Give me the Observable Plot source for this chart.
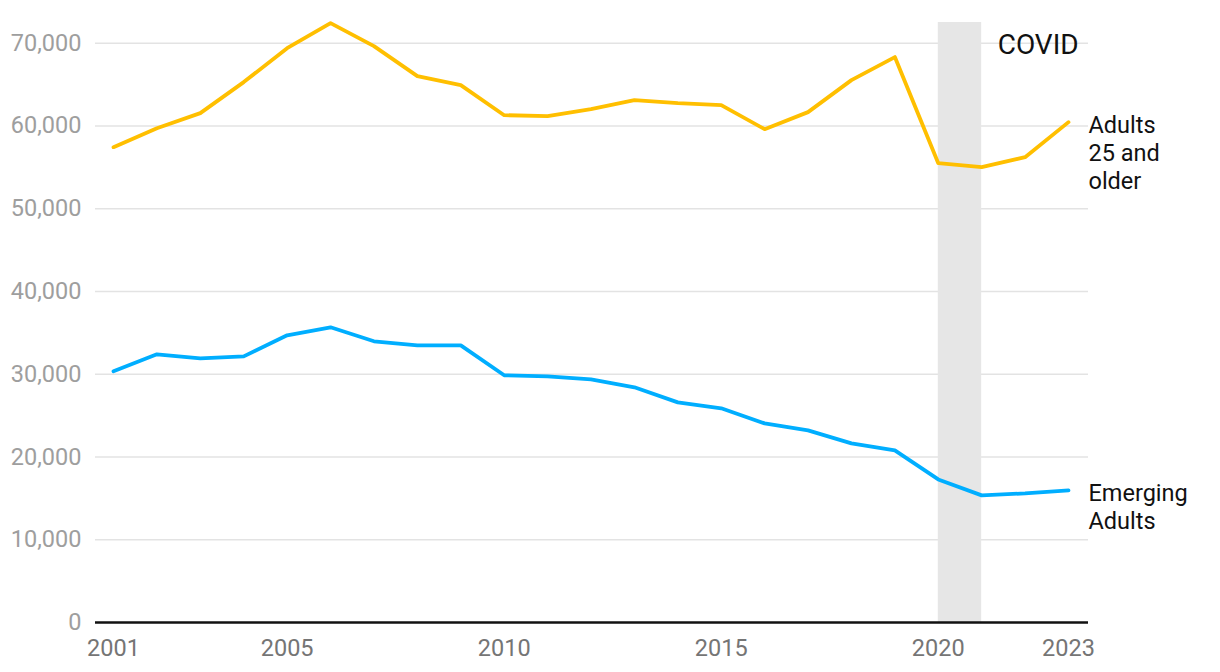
<!DOCTYPE html>
<html><head><meta charset="utf-8">
<script src="https://cdn.jsdelivr.net/npm/d3@7"></script>
<script src="https://cdn.jsdelivr.net/npm/@observablehq/plot@0.6"></script>
<style>
html,body{margin:0;padding:0;background:#fff;}
svg{display:block;}
</style>
</head><body>
<div id="chart"></div>
<script>
const years = [2001,2002,2003,2004,2005,2006,2007,2008,2009,2010,2011,2012,2013,2014,2015,2016,2017,2018,2019,2020,2021,2022,2023];
const adults25 = [57440,59730,61550,65300,69400,72430,69650,66020,64930,61300,61190,62030,63120,62760,62520,59610,61670,65540,68320,55500,55020,56230,60460];
const emerging = [30350,32410,31920,32160,34700,35670,33980,33490,33490,29870,29750,29380,28420,26600,25880,24060,23220,21640,20800,17290,15360,15600,15960];
const seriesNames = ["Adults\n25 and\nolder", "Emerging\nAdults"];
const seriesColors = ["#FFBF00", "#00AEFF"];
const xTicks = [2001,2005,2010,2015,2020,2023];
const yTicks = [0,10000,20000,30000,40000,50000,60000,70000];
const covid = [{start:2020, end:2021, label:"COVID"}];

const rows = [];
years.forEach((y,i)=>{
  rows.push({year:y, value:adults25[i], series:seriesNames[0]});
  rows.push({year:y, value:emerging[i], series:seriesNames[1]});
});
const last = [
  {year:years[years.length-1], value:adults25[adults25.length-1], series:seriesNames[0]},
  {year:years[years.length-1], value:emerging[emerging.length-1], series:seriesNames[1]}
];

const chart = Plot.plot({
  width:1220, height:672,
  marginLeft:95, marginRight:132, marginTop:22, marginBottom:50,
  style:{fontFamily:"Roboto, sans-serif", fontSize:"23.5px", background:"#fff"},
  x:{domain:[2001,2023], insetLeft:18, insetRight:20, label:null},
  y:{domain:[0,72500], label:null},
  color:{domain:seriesNames, range:seriesColors},
  marks:[
    Plot.ruleY(yTicks.filter(d=>d>0), {stroke:"#e3e3e3", strokeWidth:1.5}),
    Plot.rectX(covid, {x1:"start", x2:"end", y1:0, y2:72500, fill:"#e6e6e6"}),
    Plot.text(covid, {x:"end", y:72500, text:"label", textAnchor:"start", lineAnchor:"top", dx:16, dy:12, fontSize:28, fill:"#111"}),
    Plot.ruleY([0], {stroke:"#111", strokeWidth:2.5}),
    Plot.line(rows, {x:"year", y:"value", z:"series", stroke:"series", strokeWidth:3.8}),
    Plot.text(last, {x:"year", y:"value", text:"series", textAnchor:"start", lineAnchor:"top", dx:20, dy:-9, fill:"#111", fontSize:23.5, lineHeight:28/23.5}),
    Plot.axisX({ticks:xTicks, tickFormat:d=>String(d), tickSize:0, tickPadding:17, color:"#757575", fontSize:23.5, label:null}),
    Plot.axisY({ticks:yTicks, tickFormat:d3.format(","), tickSize:0, tickPadding:14, color:"#9e9e9e", fontSize:23.5, label:null})
  ]
});
document.getElementById("chart").appendChild(chart);
</script>
</body></html>
